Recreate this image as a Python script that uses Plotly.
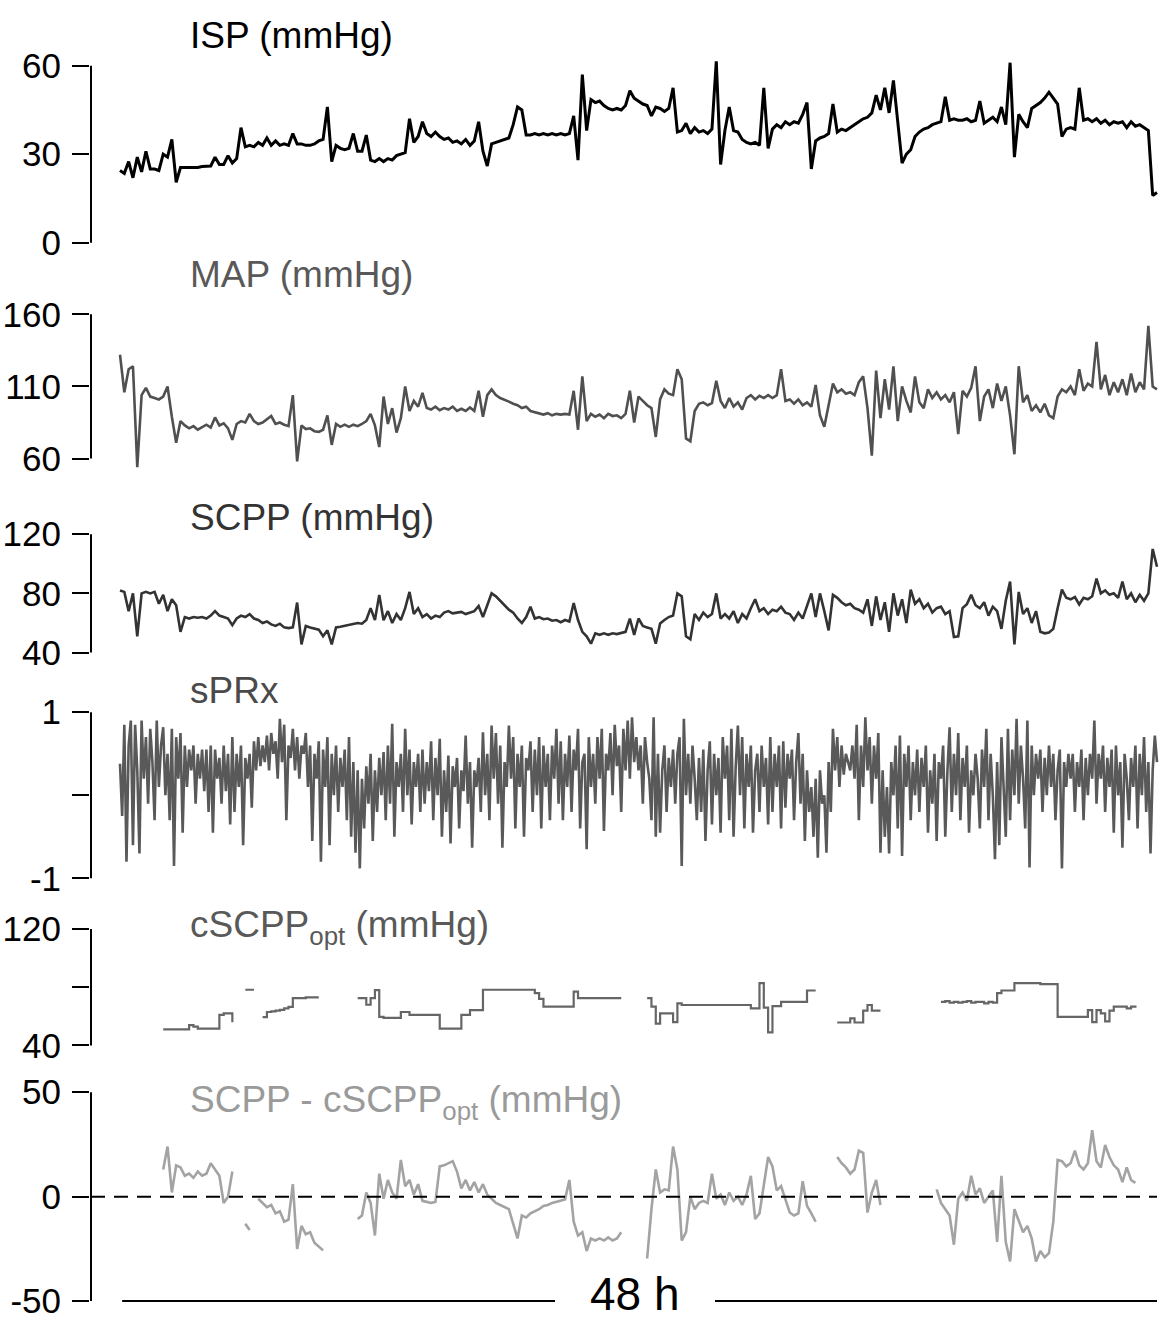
import plotly.graph_objects as go

# ---------------------------------------------------------------- page geometry
FIG_W, FIG_H = 1161, 1325
MARGIN_L, MARGIN_R = 90, 2
PX_T0, PX_T48 = 120, 1157          # pixel columns of hour 0 and hour 48
HOURS = 48
PX_PER_H = (PX_T48 - PX_T0) / HOURS
FONT = "Liberation Sans, Arial, sans-serif"

SAMPLE_H = 0.2       # sampling interval of the pressure traces (h)
PRX_SAMPLE_H = 0.1   # sampling interval of sPRx (h)
N_SAMPLES = 241

# ---------------------------------------------------------------- data
isp = [
    24.5, 23.5, 27.5, 22, 29, 24, 31, 25, 25, 24.5,
    30, 29, 35, 20.5, 25.5, 25.5, 25.5, 25.5, 25.5, 25.8,
    26, 26, 29, 26.5, 26.5, 29.5, 27, 28.5, 39, 32.5,
    33, 32.5, 34, 33, 35.5, 33, 34.5, 33, 33.5, 33,
    37, 33.5, 33.5, 33, 33, 33.5, 34.5, 35, 46, 27.5,
    33, 32, 31.5, 32, 37, 31, 31, 36.5, 28, 27.5,
    28.5, 27.5, 28.5, 28, 29.5, 30, 30.5, 42, 34, 36,
    41, 37, 36, 37.5, 36, 35, 35.5, 34, 34.5, 33.5,
    35, 33, 34.5, 41, 31, 26, 33.5, 34, 34.5, 35,
    35.5, 40, 46, 45, 36.5, 36.5, 37, 36.5, 37, 36.5,
    37, 36.5, 37, 36.5, 37, 43, 28, 57, 38, 48.5,
    47.5, 48, 46.5, 45.5, 45, 45.5, 45, 46.5, 51.5, 49,
    48, 47, 46.5, 43, 46, 45.5, 44.5, 45.5, 52.5, 37.5,
    38, 40.5, 37, 39, 37.5, 38, 37, 38.5, 61.5, 26.5,
    38, 46, 38, 37.5, 35, 34, 33.5, 34, 33, 52.5,
    32, 38.5, 40, 39, 41, 40, 41, 40.5, 43.5, 47.5,
    25, 34.5, 35.5, 36, 37, 47, 37.5, 38.5, 38, 39,
    40, 41, 42, 42.5, 44, 50, 45, 52.5, 44, 55,
    40, 27, 30, 31.5, 36, 37.5, 38.5, 39, 40, 40.5,
    41, 49.5, 41.5, 42, 41.5, 41.5, 42, 41, 41.5, 48,
    40.5, 41.5, 42.5, 41, 46, 40, 61, 29, 43.5, 41,
    39, 45.5, 46.5, 47.5, 49, 51, 49, 47, 36, 38.5,
    39, 38.5, 52.5, 41.5, 42, 41, 42, 40.5, 41.5, 40,
    41, 40.5, 41, 39, 41, 39.5, 40, 39, 38, 16, 17,
]

map_ = [
    132, 106, 122, 124, 54, 104, 109, 103, 102, 101,
    103, 110, 89, 71, 86, 83, 81, 82.5, 80, 82,
    83.5, 81.5, 88.5, 83, 84.5, 81, 73, 84, 86, 85,
    91, 86, 84, 85, 87, 89.5, 84, 85, 83.5, 82.5,
    104, 58, 83, 80.5, 81, 79, 78.5, 80, 90, 69.5,
    84, 82, 83.5, 82, 83.5, 82.5, 84, 86, 91, 83,
    68, 103, 84, 95, 78, 88, 110, 93, 100, 96,
    105.5, 95, 94, 96, 93.5, 95, 94, 96, 93, 94.5,
    93, 95.5, 93, 107, 89, 104, 108, 104, 102, 101,
    99.5, 98, 97, 95, 96, 93, 92, 91, 90.5, 91.5,
    90, 91, 90.5, 91, 90.5, 107, 80, 117, 86, 91,
    89, 90.5, 88, 91, 89.5, 90, 88, 91, 107, 85,
    103, 100, 97, 95, 75, 101, 108, 105, 104, 122,
    115, 74, 72, 93, 98, 99, 97, 98.5, 114, 100,
    95, 102, 96, 99, 94, 102, 104, 101, 103.5, 102,
    104, 102, 104, 122, 100, 101, 98, 101, 97, 99,
    96, 111, 90, 82, 97, 112, 106, 108, 105, 106,
    104, 113, 117, 95, 62, 121, 88, 115, 94, 124,
    86, 110, 100, 92, 117, 99, 95, 108, 102, 106,
    101, 104, 99, 106, 77, 107, 103, 109, 124, 86,
    103, 108, 95, 112, 100, 110, 90, 63, 124, 99,
    104, 93, 97, 92, 98, 90, 88, 103, 108, 106,
    110, 104, 122, 107, 112, 110, 141, 108, 118, 104,
    113, 106, 115, 104, 119, 106, 113, 108, 152, 110, 108,
]

scpp = [
    82, 81, 68, 80, 51, 80, 81, 80, 81, 73,
    79, 68, 76, 72, 54, 64, 63, 64, 63.5, 64,
    63, 65, 68, 65, 64, 63, 58.5, 63, 65, 64,
    66, 63, 62, 60, 61, 59, 58, 59.5, 57, 56.5,
    57, 73.8, 45.5, 58, 57, 56, 55.5, 51, 55, 45.5,
    57, 57.5, 58, 58.5, 59, 60, 59.5, 62, 70, 62,
    79, 61.8, 68, 60, 66, 62, 70, 81, 66, 70,
    64, 66, 63, 65, 64, 67, 68, 66.5, 67, 67.5,
    66, 67, 68, 71.5, 64, 72, 80, 78, 75, 72,
    69, 67, 63, 60, 64, 71, 63, 64, 62.5, 63,
    61.5, 62, 60.5, 62, 61, 73.5, 62, 54, 51, 46,
    53, 52, 53, 52, 53, 52.5, 53, 54, 63, 52,
    63, 58, 57, 56, 46, 59.6, 62, 64, 65, 80,
    78, 51, 49, 66, 62, 67, 64, 66, 80, 63,
    66, 63, 68, 60, 66, 63, 70, 76, 68, 70,
    66, 69, 68, 71, 67, 66, 62, 67, 63, 72,
    80, 64, 80, 68, 55, 79, 77, 74, 72, 73,
    70, 69, 67, 76, 58, 78, 62, 74, 54, 80,
    65, 76, 60, 82.5, 73, 76, 70, 73, 67, 70,
    71, 66, 68, 50.5, 51, 70, 72.7, 79, 72, 70,
    74, 65, 71, 68, 56, 75, 88, 45.5, 81, 66,
    70, 60, 68, 54, 53, 53.5, 56, 70, 82.5, 77,
    76, 77.5, 72.5, 77, 76, 78, 90, 80, 82, 79,
    80, 77, 88, 76, 80, 74, 79, 75, 80, 110, 98,
]

sprx = [
    0.38, -0.25, 0.85, -0.8, 0.6, 0.9, -0.6, 0.85, 0.3, -0.7, 0.9, 0.2, 0.7, -0.1, 0.8, 0.4, -0.3, 0.9, 0.1, 0.6,
    0.82, 0.0, 0.5, -0.3, 0.8, -0.85, 0.7, 0.2, 0.75, -0.45, 0.6, 0.1, 0.55, 0.3, 0.6, -0.1, 0.5, 0.2, 0.55, 0.05,
    0.55, -0.2, 0.6, -0.45, 0.55, 0.2, 0.45, -0.1, 0.6, 0.05, 0.5, -0.35, 0.7, -0.2, 0.5, 0.1, 0.6, -0.6, 0.45, 0.2,
    0.5, -0.15, 0.65, 0.3, 0.7, 0.35, 0.6, 0.4, 0.72, 0.3, 0.75, 0.5, 0.65, 0.2, 0.92, 0.4, 0.85, -0.3, 0.6, 0.45,
    0.8, 0.3, 0.7, 0.2, 0.6, 0.5, 0.75, 0.1, 0.6, -0.55, 0.5, 0.2, 0.65, -0.8, 0.55, 0.1, 0.7, -0.6, 0.5, 0.0,
    0.6, -0.2, 0.45, 0.1, 0.55, -0.3, 0.7, -0.5, 0.4, -0.69, 0.3, -0.88, 0.2, -0.4, 0.35, -0.1, 0.5, -0.55, 0.3, -0.2,
    0.45, 0.0, 0.52, -0.3, 0.6, -0.1, 0.86, -0.5, 0.4, 0.1, 0.5, -0.2, 0.8, 0.0, 0.55, -0.35, 0.4, 0.1, 0.5, -0.2,
    0.55, -0.1, 0.4, 0.05, 0.65, -0.3, 0.45, 0.0, 0.68, -0.5, 0.3, -0.2, 0.48, -0.58, 0.35, 0.1, 0.45, -0.4, 0.3, 0.05,
    0.72, -0.1, 0.4, -0.63, 0.3, 0.1, 0.45, -0.2, 0.76, 0.0, 0.5, -0.3, 0.84, 0.2, 0.75, -0.1, 0.6, -0.63, 0.4, 0.1,
    0.84, 0.2, 0.7, -0.4, 0.5, 0.1, 0.6, -0.5, 0.45, 0.3, 0.65, -0.2, 0.55, 0.0, 0.7, -0.4, 0.6, 0.1, 0.5, -0.3,
    0.6, 0.2, 0.8, -0.1, 0.65, -0.3, 0.5, 0.1, 0.72, -0.2, 0.55, 0.3, 0.8, -0.4, 0.4, 0.5, -0.65, 0.7, 0.1, 0.5,
    -0.1, 0.7, 0.2, 0.8, -0.43, 0.5, 0.3, 0.75, 0.0, 0.85, 0.35, 0.6, -0.2, 0.8, 0.3, 0.9, 0.2, 0.94, 0.4, 0.7,
    0.3, 0.6, -0.1, 0.7, 0.4, 0.2, -0.3, 0.94, -0.5, 0.5, -0.45, 0.3, 0.6, -0.2, 0.45, 0.1, 0.55, -0.1, 0.5, 0.7,
    -0.85, 0.92, 0.0, 0.5, -0.1, 0.6, 0.2, -0.3, 0.45, -0.2, 0.55, -0.55, 0.3, 0.65, -0.35, 0.5, 0.0, 0.45, -0.45, 0.7,
    0.2, 0.6, -0.3, 0.8, -0.5, 0.35, 0.84, 0.0, 0.7, -0.4, 0.5, 0.1, 0.6, -0.45, 0.3, 0.5, -0.2, 0.6, 0.1, 0.45,
    -0.35, 0.7, -0.2, 0.5, 0.1, 0.6, -0.4, 0.65, -0.15, 0.5, 0.2, 0.55, -0.3, 0.4, 0.75, -0.1, 0.5, -0.55, 0.3, -0.2,
    0.1, -0.5, 0.2, -0.75, 0.3, -0.1, 0.0, -0.69, 0.4, -0.2, 0.8, 0.3, 0.7, 0.1, 0.6, 0.25, 0.5, 0.4, 0.3, 0.6,
    0.2, 0.85, -0.3, 0.6, 0.1, 0.94, 0.3, 0.7, -0.1, 0.6, 0.2, 0.75, -0.69, 0.3, -0.5, 0.1, -0.7, 0.4, 0.0, 0.6,
    -0.4, 0.72, -0.73, 0.5, 0.1, 0.6, -0.3, 0.4, 0.0, 0.55, -0.2, 0.45, 0.1, 0.6, -0.45, 0.3, -0.1, 0.5, -0.55, 0.4,
    0.2, 0.6, -0.5, 0.3, 0.82, -0.2, 0.5, 0.0, 0.75, -0.3, 0.45, 0.1, 0.6, -0.45, 0.3, 0.0, 0.5, 0.2, -0.4, 0.55,
    0.1, 0.8, -0.3, 0.5, 0.0, -0.77, 0.4, -0.6, 0.7, 0.1, -0.5, 0.8, -0.3, 0.55, 0.0, 0.92, -0.1, 0.6, 0.2, -0.4,
    0.9, -0.87, 0.6, 0.0, 0.5, 0.2, 0.55, -0.2, 0.45, 0.0, 0.6, 0.1, 0.5, -0.3, 0.3, 0.55, -0.88, 0.4, 0.1, 0.5,
    0.2, 0.5, -0.2, 0.4, 0.1, 0.55, -0.3, 0.45, 0.0, 0.5, 0.2, 0.9, -0.1, 0.5, 0.2, 0.6, -0.2, 0.45, 0.1, 0.55,
    -0.45, 0.6, 0.0, 0.4, -0.63, 0.5, 0.2, -0.3, 0.45, 0.1, 0.6, -0.4, 0.5, 0.0, 0.7, -0.2, 0.4, -0.7, 0.3, 0.72, 0.4,
]

# cSCPPopt is only defined in some periods: (first sample index, values)
cscpp_opt_segments = [
    (10, [51, 51, 51, 51, 51, 51, 54, 53, 51.6, 51.6, 51.6, 51.6, 51.6, 61, 62, 62, 56]),
    (29, [78.3, 78.3, 78.3]),
    (33, [59.5, 63, 63.5, 64, 64.5, 65.5, 66.5, 72.5, 72.5, 72.5, 73, 73, 73, 73]),
    (55, [72.5, 72.5, 68, 72.5, 78, 59.7, 59, 59, 59, 59, 63, 63, 61, 61, 61, 61, 61, 61, 61,
          51.6, 51.6, 51.6, 51.6, 51.6, 61, 61, 64.3, 64.3, 64.3,
          78.3, 78.3, 78.3, 78.3, 78.3, 78.3, 78.3, 78.3, 78.3, 78.3, 78.3, 78.3,
          76, 72, 66.7, 66.7, 66.7, 66.7, 66.7, 66.7, 66.7, 77,
          72.5, 72.5, 72.5, 72.5, 72.5, 72.5, 72.5, 72.5, 72.5, 72.5, 72.5]),
    (122, [72.5, 66.7, 55, 62, 62, 62, 56, 69, 67.8,
           67.8, 67.8, 67.8, 67.8, 67.8, 67.8, 67.8, 67.8, 67.8, 67.8, 67.8, 67.8, 67.8, 67.8, 67.8,
           65.5, 65.5, 82.9, 66, 49, 67, 67, 70, 70, 70, 70, 70, 70, 77.8, 77.8, 77.8]),
    (166, [55.8, 55.8, 55.8, 58.6, 55.8, 55.8, 64, 67.8, 64, 64, 64]),
    (190, [70, 70.5, 69.5, 70, 69.5, 70, 70.5, 69.5, 70, 70, 69, 70, 69.5,
           76, 77.8, 77.8, 77.8, 82.9, 82.9, 82.9, 82.9, 82.9, 82.9, 82.2, 82.2, 82.2, 82.2,
           59.7, 59.7, 59.7, 59.7, 59.7, 59.7, 59.7,
           64.3, 56, 64.3, 62, 56.5, 64, 66.7, 66.7, 66.7, 65.5, 66.7, 67.5]),
]

# SCPP - cSCPPopt, same periods
delta_segments = [
    (10, [13, 24, 2, 15, 14, 10, 11, 9, 12, 10, 11, 16, 13, 10, -3, 0, 12]),
    (29, [-13, -16]),
    (32, [-1, -3, -5, -4, -8, -7, -12, -11, 6, -25, -14, -18, -17, -22, -24, -25.7]),
    (55, [-10.7, -9, 2, -3, -18.6, 11, -1, 8, 2, -1, 17.6, 5, 8, 1, 6, -2, -2.5, -3, -2.5,
          14.5, 15, 16, 17, 12, 4, 8, 3, 7, 2, 6, 1, -1, -3, -4, -5, -6, -13, -20, -9, -10,
          -8, -7, -6, -4.4, -4, -3, -2.5, -2, -1.3, 8, -12, -18.6, -17, -26, -20, -21, -20,
          -21, -19.5, -21, -20, -17]),
    (122, [-29.6, -6, 13, 2, 3.5, 3, 24, 13, -21, -17, 0, -6, -3, -2, -3, 11, -1, 1, -4, 2,
           -2, 0, -4, 1, 10, -10.7, -8, 5, 19, 14.5, 3, 5, -1, -7.6, -9, -8, 7.4, -4.4, -8, -12]),
    (166, [19, 16, 14, 11, 13, 22, 21, -7.6, 2, 8, -4]),
    (189, [3.5, -3, -6, -9, -23, -1, 2, -2, 10, 1, 4, -3, 0, 3, -21.7, 10, -21.7, -31, -6,
           -12, -17, -14, -20, -31, -26, -29, -27, -12, 17.6, 17, 14.5, 16, 22, 15, 13, 16,
           31.8, 17, 14, 24.7, 19, 15, 13, 7, 14, 8, 6.6]),
]


def from_segments(n, segments):
    out = [None] * n
    for start, vals in segments:
        for k, v in enumerate(vals):
            out[start + k] = v
    return out


def hours(n, step):
    return [i * step for i in range(n)]


cscpp_opt = from_segments(N_SAMPLES, cscpp_opt_segments)
delta = from_segments(N_SAMPLES, delta_segments)

# ---------------------------------------------------------------- panels
# tick values / labels, pixel rows of top & bottom ticks, colours
panels = [
    dict(title="ISP (mmHg)", title_color="#000000", title_y=32,
         x=hours(len(isp), SAMPLE_H), y=isp, color="#000000", width=3.0, shape="linear",
         tickvals=[0, 30, 60], ticktext=["0", "30", "60"], v=(60, 0), px=(62, 240)),
    dict(title="MAP (mmHg)", title_color="#595959", title_y=272,
         x=hours(len(map_), SAMPLE_H), y=map_, color="#505050", width=2.6, shape="linear",
         tickvals=[60, 110, 160], ticktext=["60", "110", "160"], v=(160, 60), px=(312, 457)),
    dict(title="SCPP (mmHg)", title_color="#333333", title_y=516,
         x=hours(len(scpp), SAMPLE_H), y=scpp, color="#333333", width=2.6, shape="linear",
         tickvals=[40, 80, 120], ticktext=["40", "80", "120"], v=(120, 40), px=(533, 652)),
    dict(title="sPRx", title_color="#4a4a4a", title_y=690,
         x=hours(len(sprx), PRX_SAMPLE_H), y=sprx, color="#595959", width=2.6, shape="linear",
         tickvals=[-1, 0, 1], ticktext=["-1", " ", "1"], v=(1, -1), px=(712, 879)),
    dict(title="cSCPP<sub>opt</sub> (mmHg)", title_color="#595959", title_y=928,
         x=hours(N_SAMPLES, SAMPLE_H), y=cscpp_opt, color="#666666", width=2.2, shape="hv",
         tickvals=[40, 80, 120], ticktext=["40", " ", "120"], v=(120, 40), px=(930, 1047)),
    dict(title="SCPP - cSCPP<sub>opt</sub> (mmHg)", title_color="#9a9a9a", title_y=1104,
         x=hours(N_SAMPLES, SAMPLE_H), y=delta, color="#a3a3a3", width=2.6, shape="linear",
         tickvals=[-50, 0, 50], ticktext=["-50", "0", "50"], v=(50, -50), px=(1094, 1304)),
]

PAD = 16
x_range = [(MARGIN_L - PX_T0) / PX_PER_H,
           HOURS + (FIG_W - MARGIN_R - PX_T48) / PX_PER_H]
spine_x = x_range[0] + 1.0 / PX_PER_H
plot_w = FIG_W - MARGIN_L - MARGIN_R

fig = go.Figure()
layout_axes = {}
shapes = []
annotations = []

for k, p in enumerate(panels, start=1):
    v_top, v_bot = p["v"]
    px_top, px_bot = p["px"]
    per_px = (v_top - v_bot) / (px_bot - px_top)
    domain = [1 - (px_bot + PAD) / FIG_H, 1 - (px_top - PAD) / FIG_H]
    rng = [v_bot - PAD * per_px, v_top + PAD * per_px]
    yname = "y" if k == 1 else f"y{k}"
    lname = "yaxis" if k == 1 else f"yaxis{k}"

    fig.add_trace(go.Scatter(
        x=p["x"], y=p["y"], xaxis="x", yaxis=yname, mode="lines",
        line=dict(color=p["color"], width=p["width"], shape=p["shape"]),
        connectgaps=False, showlegend=False, hoverinfo="skip",
    ))

    layout_axes[lname] = dict(
        domain=domain, range=rng, anchor="x", showline=False, showgrid=False,
        zeroline=False, ticks="outside", ticklen=17, tickwidth=2, tickcolor="#000000",
        tickvals=p["tickvals"], ticktext=p["ticktext"], ticklabelstandoff=4,
        tickfont=dict(family=FONT, size=35, color="#000000"), fixedrange=True,
    )

    # bracket spine from the lowest to the highest tick
    shapes.append(dict(type="line", xref="x", yref=yname, x0=spine_x, x1=spine_x,
                       y0=v_bot, y1=v_top, line=dict(color="#000000", width=2)))

    annotations.append(dict(
        text=p["title"], xref="paper", yref="paper",
        x=(188 - MARGIN_L) / plot_w, y=1 - p["title_y"] / FIG_H,
        xanchor="left", yanchor="middle", showarrow=False,
        font=dict(family=FONT, size=37, color=p["title_color"]),
    ))

# zero reference in the bottom panel
shapes.append(dict(type="line", xref="x", yref="y6", x0=spine_x, x1=HOURS, y0=0, y1=0,
                   line=dict(color="#000000", width=2, dash="14px,9px")))

# 48 h time bar
bar_gap = ((555 - PX_T0) / PX_PER_H, (715 - PX_T0) / PX_PER_H)
shapes.append(dict(type="line", xref="x", yref="y6", x0=0.1, x1=bar_gap[0], y0=-50, y1=-50,
                   line=dict(color="#000000", width=2)))
shapes.append(dict(type="line", xref="x", yref="y6", x0=bar_gap[1], x1=HOURS, y0=-50, y1=-50,
                   line=dict(color="#000000", width=2)))
annotations.append(dict(text="48 h", xref="x", yref="paper", x=(bar_gap[0] + bar_gap[1]) / 2,
                        y=0, xanchor="center", yanchor="bottom", showarrow=False,
                        font=dict(family=FONT, size=46, color="#000000")))

fig.update_layout(
    width=FIG_W, height=FIG_H,
    margin=dict(l=MARGIN_L, r=MARGIN_R, t=0, b=0, pad=0),
    paper_bgcolor="#ffffff", plot_bgcolor="#ffffff",
    xaxis=dict(range=x_range, visible=False, showgrid=False, zeroline=False,
               anchor="y6", fixedrange=True),
    shapes=shapes, annotations=annotations, showlegend=False,
    font=dict(family=FONT),
    **layout_axes,
)

fig.write_html("out.html")
